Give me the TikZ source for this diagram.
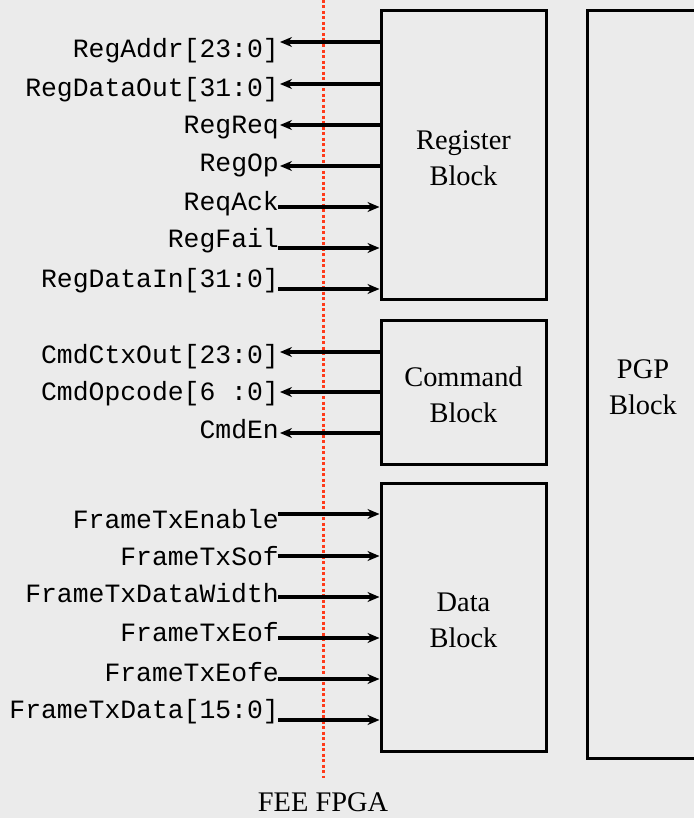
\documentclass[tikz,border=0pt]{standalone}
\usepackage{fontspec}
\setmainfont{Liberation Serif}
\newfontfamily\sigfont{Liberation Mono}
\usetikzlibrary{arrows.meta}
\definecolor{bg}{HTML}{EBEBEB}
\definecolor{fpgaline}{HTML}{FF3A1A}

\begin{document}
\begin{tikzpicture}[x=1bp,y=-1bp,
  blockbox/.style={draw=black, line width=3bp, inner sep=0pt, align=center,
                   font=\fontsize{28.5}{36}\selectfont},
  sig/.style={anchor=base east, inner sep=0pt, font=\sigfont\fontsize{26.5}{30}\selectfont},
  wire/.style={draw=black, line width=3.2bp, -{Stealth[length=12bp,width=10bp,inset=4bp]}},
  boundary/.style={draw=fpgaline, line width=3bp, dash pattern=on 3bp off 2.5bp},
]
\fill[bg] (0,0) rectangle (694,818);
\useasboundingbox (0,0) rectangle (694,818);

% FPGA boundary
\coordinate (btop) at (323,0);
\coordinate (bbot) at (323,778);
\draw[boundary] (btop) -- (bbot);
\node[anchor=base, inner sep=0pt, font=\fontsize{28.5}{34}\selectfont] (fpga) at (323,811) {FEE FPGA};

% functional blocks
\node[blockbox, minimum width=165bp, minimum height=288bp] (reg) at (463.5,155) {\strut Register\\Block};
\node[blockbox, minimum width=165bp, minimum height=144bp] (cmd) at (463.5,392) {\strut Command\\Block};
\node[blockbox, minimum width=165bp, minimum height=268bp] (dat) at (463.5,617) {\strut Data\\Block};
\node[blockbox, minimum width=112bp, minimum height=747bp] (pgp) at (643,384.5) {\strut PGP\\Block};

% register interface
\node[sig] (l1) at (279,58)  {RegAddr[23:0]};
\node[sig] (l2) at (279,96)  {RegDataOut[31:0]};
\node[sig] (l3) at (279,133) {RegReq};
\node[sig] (l4) at (279,171) {RegOp};
\node[sig] (l5) at (279,210) {ReqAck};
\node[sig] (l6) at (279,247) {RegFail};
\node[sig] (l7) at (279,287) {RegDataIn[31:0]};
\coordinate (p1) at (280,42);
\coordinate (p2) at (280,84);
\coordinate (p3) at (280,125);
\coordinate (p4) at (280,166);
\coordinate (p5) at (278,207);
\coordinate (p6) at (278,248);
\coordinate (p7) at (278,289);
\draw[wire] (p1 -| reg.west) -- (p1);
\draw[wire] (p2 -| reg.west) -- (p2);
\draw[wire] (p3 -| reg.west) -- (p3);
\draw[wire] (p4 -| reg.west) -- (p4);
\draw[wire] (p5) -- (p5 -| reg.west);
\draw[wire] (p6) -- (p6 -| reg.west);
\draw[wire] (p7) -- (p7 -| reg.west);

% command interface
\node[sig] (c1) at (279,363) {CmdCtxOut[23:0]};
\node[sig] (c2) at (279,400) {CmdOpcode[6 :0]};
\node[sig] (c3) at (279,438) {CmdEn};
\coordinate (q1) at (280,352);
\coordinate (q2) at (280,392);
\coordinate (q3) at (280,433);
\draw[wire] (q1 -| cmd.west) -- (q1);
\draw[wire] (q2 -| cmd.west) -- (q2);
\draw[wire] (q3 -| cmd.west) -- (q3);

% data interface
\node[sig] (d1) at (279,528) {FrameTxEnable};
\node[sig] (d2) at (279,565) {FrameTxSof};
\node[sig] (d3) at (279,602) {FrameTxDataWidth};
\node[sig] (d4) at (279,641) {FrameTxEof};
\node[sig] (d5) at (279,681) {FrameTxEofe};
\node[sig] (d6) at (279,718) {FrameTxData[15:0]};
\coordinate (r1) at (278,514);
\coordinate (r2) at (278,556);
\coordinate (r3) at (278,597);
\coordinate (r4) at (278,638);
\coordinate (r5) at (278,679);
\coordinate (r6) at (278,720);
\draw[wire] (r1) -- (r1 -| dat.west);
\draw[wire] (r2) -- (r2 -| dat.west);
\draw[wire] (r3) -- (r3 -| dat.west);
\draw[wire] (r4) -- (r4 -| dat.west);
\draw[wire] (r5) -- (r5 -| dat.west);
\draw[wire] (r6) -- (r6 -| dat.west);
\end{tikzpicture}
\end{document}
